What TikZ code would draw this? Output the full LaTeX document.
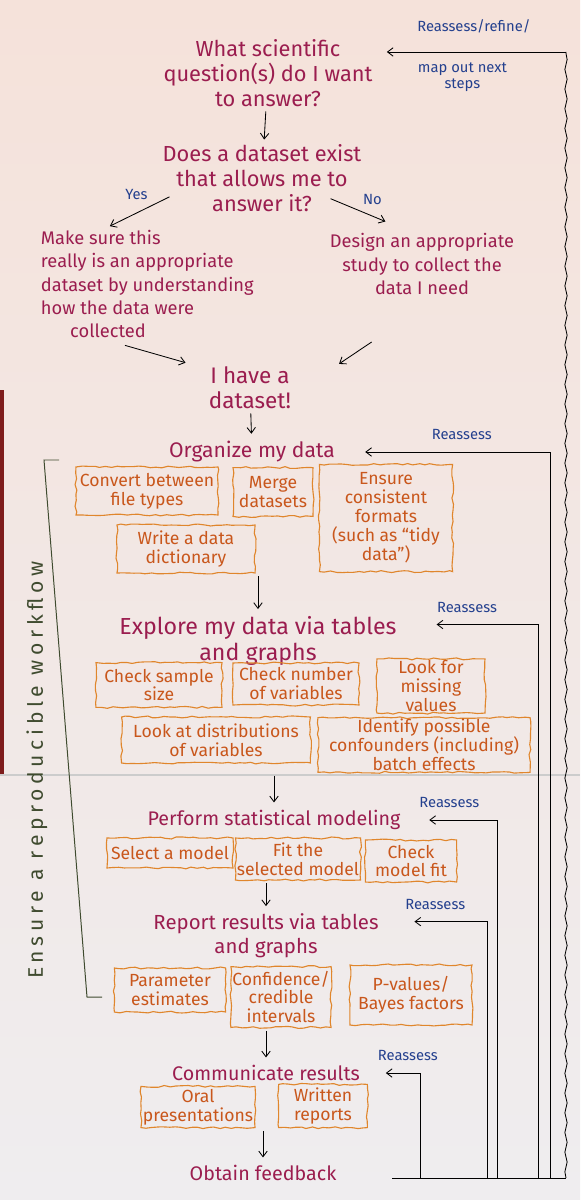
\documentclass[tikz,border=0pt]{standalone}
\usepackage{fontspec}
\setmainfont{Fira Sans}
\usetikzlibrary{positioning, arrows.meta, decorations.pathmorphing, calc}

\definecolor{ink}{HTML}{9B1D4F}
\definecolor{marker}{HTML}{E0862C}
\definecolor{markertext}{HTML}{C9571C}
\definecolor{pen}{HTML}{24408E}
\definecolor{olive}{HTML}{3F4B2F}
\definecolor{papertop}{HTML}{F5E2DA}
\definecolor{paperlow}{HTML}{EFEDEF}
\definecolor{tabletop}{HTML}{7E1C1C}

\tikzset{
  question/.style={text=ink, align=center, inner sep=1pt, font=\fontsize{15.5}{18}\selectfont},
  answer/.style={text=ink, align=center, font=\fontsize{13}{16.5}\selectfont},
  heading/.style={text=ink, align=center, font=\fontsize{14}{16.5}\selectfont},
  task/.style={draw=marker, line width=0.8pt, text=markertext, align=center,
    inner sep=1pt, font=\fontsize{12.5}{13.5}\selectfont,
    decorate, decoration={random steps, segment length=4pt, amplitude=0.7pt}},
  note/.style={text=pen, align=center, font=\fontsize{10.5}{11.5}\selectfont},
  flow/.style={->, line width=0.6pt, shorten <=2pt, shorten >=2pt},
  reassess/.style={->, line width=0.6pt, shorten >=20pt},
}

\begin{document}
\begin{tikzpicture}[x=0.025cm, y=-0.025cm, >={Straight Barb[length=4pt, width=6pt]}]
    \pgfmathsetseed{11}
    \useasboundingbox (0,0) rectangle (580,1200);
    \fill[top color=papertop, bottom color=paperlow] (0,0) rectangle (580,1200);
    \fill[tabletop] (0,390) rectangle (4,775);
    \draw[black!20, line width=0.8pt] (0,775) -- (580,775); % fold of the sheet

    % questions
    \node[question] (q1) at (268, 73) {What scientific\\question(s) do I want\\to answer?}; % q1
    \node[question] (q2) at (262, 178) {Does a dataset exist\\that allows me to\\answer it?}; % q2
    \node[answer, align=left, anchor=west] (sure) at (36, 284) {Make sure this\\really is an appropriate\\dataset by understanding\\how the data were\\\hspace{1.6em}collected}; % yes
    \node[answer] (design) at (422, 264) {Design an appropriate\\study to collect the\\data I need}; % no
    \node[question, font=\fontsize{16}{17.5}\selectfont] (have) at (250, 388) {I have a\\dataset!}; % have

    % steps
    \node[heading, font=\fontsize{15}{17}\selectfont] (organize) at (252, 452) {Organize my data}; % organize
    \node[heading, font=\fontsize{16.5}{18}\selectfont] (explore) at (258, 641) {Explore my data via tables\\and graphs}; % explore
    \node[heading] (perform) at (274, 820) {Perform statistical modeling}; % model
    \node[heading, font=\fontsize{14.5}{17}\selectfont] (report) at (266, 936) {Report results via tables\\and graphs}; % report
    \node[heading] (communicate) at (266, 1073) {Communicate results}; % communicate
    \node[heading] (feedback) at (263, 1173) {Obtain feedback}; % feedback

    % organize
    \node[task, minimum width=3.55cm, minimum height=1.2cm] (convert) at (147, 491) {Convert between\\file types};
    \node[task, minimum width=2cm, minimum height=1.22cm] (merge) at (273, 492) {Merge\\datasets};
    \node[task, minimum width=3.33cm, minimum height=2.68cm] (tidy) at (386, 518) {Ensure\\consistent\\formats\\(such as ``tidy\\data'')};
    \node[task, minimum width=3.45cm, minimum height=1.2cm] (dict) at (186, 549) {Write a data\\dictionary};

    % explore
    \node[task, minimum width=3.15cm, minimum height=1.12cm] (sample) at (159, 685) {Check sample\\size};
    \node[task, minimum width=3.15cm, minimum height=1.05cm] (number) at (296, 684) {Check number\\of variables};
    \node[task, minimum width=2.7cm, minimum height=1.33cm] (missing) at (431, 686) {Look for\\missing\\values};
    \node[task, minimum width=4.72cm, minimum height=1.15cm] (distrib) at (216, 740) {Look at distributions\\of variables};
    \node[task, minimum width=5.3cm, minimum height=1.25cm] (confound) at (424, 745) {Identify possible\\confounders (including)\\batch effects};

    % model
    \node[task, minimum width=3.15cm, minimum height=0.75cm] (select) at (170, 853) {Select a model};
    \node[task, minimum width=2.95cm, minimum height=1.05cm] (fit) at (298, 859) {Fit the\\selected model};
    \node[task, minimum width=2.28cm, minimum height=1.05cm] (check) at (411, 861) {Check\\model fit};

    % report
    \node[task, minimum width=2.78cm, minimum height=1.1cm] (param) at (170, 990) {Parameter\\estimates};
    \node[task, minimum width=2.3cm, minimum height=1.52cm] (interval) at (281, 997) {Confidence/\\credible\\intervals};
    \node[task, minimum width=3.05cm, minimum height=1.5cm] (pvalue) at (411, 995) {P-values/\\Bayes factors};

    % communicate
    \node[task, minimum width=2.85cm, minimum height=1.03cm] (oral) at (198, 1107) {Oral\\presentations};
    \node[task, minimum width=2.22cm, minimum height=1.08cm] (written) at (323, 1106) {Written\\reports};

    % reproducible workflow
    \draw[olive, line width=0.7pt] (59,460) -- (44,460) -- (87,997) -- (102,997);
    \node[text=olive, rotate=90, font=\fontsize{15}{17}\selectfont\addfontfeature{LetterSpace=22}] (workflow) at (37, 770) {Ensure a reproducible workflow};

    \path[flow]
        (q1) edge (q2)
        ($(q2.south)+(-90,-18)$) edge node[note, above left, pos=0.3]{Yes} ($(sure.north)+(-40,2)$)
        ($(q2.south)+(66,-16)$) edge node[note, above right, pos=0.5]{No} ($(design.north)+(-34,-6)$)
        ($(sure.south)+(-25,2)$) edge ($(have.north west)+(-19,-2)$)
        ($(design.south)+(-48,41)$) edge ($(have.north east)+(44,0)$)
        (have) edge (organize)
        (explore.north |- dict.south) edge (explore)
        (perform.north |- confound.south) edge (perform)
        (report.north |- fit.south) edge (report)
        (communicate.north |- interval.south) edge (communicate)
        (feedback.north |- oral.south) edge (feedback)
        ;

    % reassess loops
    \coordinate (base) at (566, 1178);
    \coordinate (fbk) at (392, 1178);
    \coordinate (top) at (566, 52);
    \draw[line width=0.6pt] (fbk) -- (base);
    \draw[line width=0.6pt, decorate, decoration={snake, amplitude=0.8pt, segment length=14pt}] (base) -- (top);
    \draw[reassess, shorten >=9pt] (top) -- (top -| q1.east)
        node[note, above=10pt, pos=0.48] {Reassess/refine/}
        node[note, below=4pt, pos=0.54] {map out next\\steps};
    \draw[reassess, shorten >=18pt] (550, 1178) |- (organize.east) node[note, above=5pt, pos=0.71] {Reassess};
    \draw[reassess, shorten >=25pt] (538, 1178) |- ([yshift=-9pt]explore.north east) node[note, above=5pt, pos=0.76] {Reassess};
    \draw[reassess, shorten >=17pt] (497, 1178) |- (perform.east) node[note, above=5pt, pos=0.76] {Reassess};
    \draw[reassess, shorten >=22pt] (487, 1178) |- ([yshift=-9pt]report.north east) node[note, above=5pt, pos=0.75] {Reassess};
    \draw[reassess, shorten >=15pt] (420, 1178) |- (communicate.east) node[note, above=5pt, pos=0.61] {Reassess};
\end{tikzpicture}
\end{document}
